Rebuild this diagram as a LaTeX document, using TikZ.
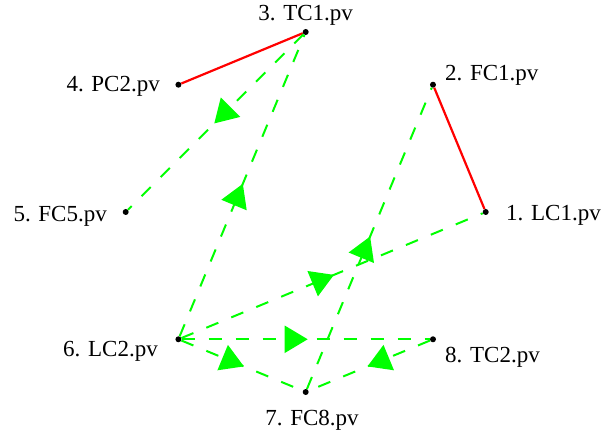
\documentclass[tikz,border=0pt]{standalone}
\usepackage{fontspec}
\setmainfont{Liberation Serif}
\usetikzlibrary{arrows.meta,decorations.markings}
\definecolor{flowgreen}{RGB}{0,255,0}
\definecolor{linkred}{RGB}{255,0,0}

\tikzset{
  dot/.style={circle, fill=black, inner sep=0pt, minimum size=6pt},
  lbl/.style={inner sep=0pt, text height=15pt, text depth=0pt, font=\fontsize{23}{27}\selectfont},
  link/.style={linkred, line width=2.2pt},
  flow/.style={flowgreen, line width=2pt, dash pattern=on 13pt off 14pt,
    postaction={decorate},
    decoration={markings, mark=at position 0.5 with {\arrow[xshift=2pt]{Triangle[length=23pt,width=27pt]}}}},
}

\begin{document}
\begin{tikzpicture}
\useasboundingbox (0,0) rectangle (601pt,436pt);
\begin{scope}[shift={(305.7pt,224pt)}]
\foreach \i in {1,...,8}{
  \node[dot] (n\i) at ({(\i-1)*45}:180pt) {};
}
\end{scope}
% labels
\node[lbl, anchor=west] (t1) at (506pt,223pt) {1. LC1.pv};
\node[lbl, anchor=west] (t2) at (445pt,363pt) {2. FC1.pv};
\node[lbl] (t3) at (305.7pt,422.5pt) {3. TC1.pv};
\node[lbl, anchor=east] (t4) at (160pt,352pt) {4. PC2.pv};
\node[lbl, anchor=east] (t5) at (107pt,222pt) {5. FC5.pv};
\node[lbl, anchor=east] (t6) at (158pt,87pt) {6. LC2.pv};
\node[lbl] (t7) at (312pt,18pt) {7. FC8.pv};
\node[lbl, anchor=west] (t8) at (445pt,81pt) {8. TC2.pv};
% edges
\draw[link] (n4) -- (n3);
\draw[link] (n2) -- (n1);
\draw[flow] (n3) -- (n5);
\draw[flow] (n6) -- (n3);
\draw[flow] (n7) -- (n2);
\draw[flow] (n6) -- (n1);
\draw[flow] (n6) -- (n8);
\draw[flow] (n6) -- (n7);
\draw[flow] (n8) -- (n7);
\end{tikzpicture}
\end{document}
